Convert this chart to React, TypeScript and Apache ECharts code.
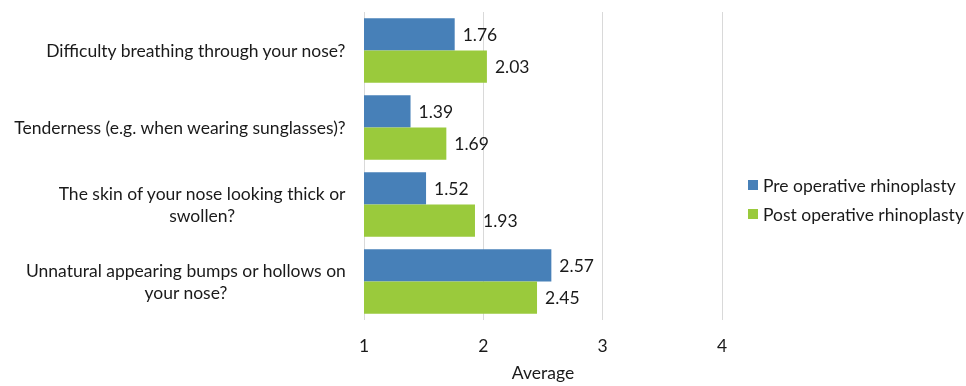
import React, { useEffect, useRef } from "react";
import * as echarts from "echarts";

const questions = [
  "Difficulty breathing through your nose?",
  "Tenderness (e.g. when wearing sunglasses)?",
  "The skin of your nose looking thick or\nswollen?",
  "Unnatural appearing bumps or hollows on\nyour nose?",
];
const preOperative = [1.76, 1.39, 1.52, 2.57];
const postOperative = [2.03, 1.69, 1.93, 2.45];
const seriesNames = ["Pre operative rhinoplasty", "Post operative rhinoplasty"];
const xTicks = [1, 2, 3, 4];

const FONT = "Lato";
const FS = 17.5;
const TEXT = "#1a1a1a";

export default function App() {
  const ref = useRef<HTMLDivElement>(null);

  useEffect(() => {
    if (!ref.current) return;
    const chart = echarts.init(ref.current, undefined, { renderer: "svg" });
    const labelStyle = {
      show: true,
      position: "right" as const,
      distance: 8,
      color: TEXT,
      fontFamily: FONT,
      fontSize: FS,
      formatter: (p: any) => p.value.toFixed(2),
    };
    chart.setOption({
      animation: false,
      textStyle: { fontFamily: FONT },
      grid: { left: 364, right: 244, top: 12, bottom: 60, containLabel: false },
      legend: {
        orient: "vertical",
        left: 743,
        top: 171,
        itemWidth: 10,
        itemHeight: 10,
        itemGap: 11,
        icon: "rect",
        data: seriesNames,
        textStyle: { color: TEXT, fontFamily: FONT, fontSize: FS },
      },
      xAxis: {
        type: "value",
        min: xTicks[0],
        max: xTicks[xTicks.length - 1],
        interval: 1,
        name: "Average",
        nameLocation: "middle",
        nameGap: 43,
        nameTextStyle: { color: TEXT, fontFamily: FONT, fontSize: FS },
        axisLine: { show: false },
        axisTick: { show: false },
        axisLabel: { color: TEXT, fontFamily: FONT, fontSize: FS, margin: 16 },
        splitLine: { show: true, lineStyle: { color: "#d9d9d9", width: 1 } },
      },
      yAxis: {
        type: "category",
        inverse: true,
        data: questions,
        axisLine: { show: false },
        axisTick: { show: false },
        axisLabel: {
          margin: 18,
          formatter: (v: string) =>
            v
              .split("\n")
              .map((line) => `{c|${line}}`)
              .join("\n"),
          rich: {
            c: {
              align: "center",
              color: TEXT,
              fontFamily: FONT,
              fontSize: FS,
              lineHeight: 21.5,
            },
          },
        },
      },
      series: [
        {
          name: seriesNames[0],
          type: "bar",
          data: preOperative,
          barGap: "0%",
          barCategoryGap: "16%",
          itemStyle: { color: "#4780b8" },
          label: labelStyle,
        },
        {
          name: seriesNames[1],
          type: "bar",
          data: postOperative,
          barGap: "0%",
          barCategoryGap: "16%",
          itemStyle: { color: "#9aca3c" },
          label: labelStyle,
        },
      ],
    });
    return () => chart.dispose();
  }, []);

  return (
    <div
      ref={ref}
      style={{ position: "fixed", left: 0, top: 0, width: 966, height: 386 }}
    />
  );
}
